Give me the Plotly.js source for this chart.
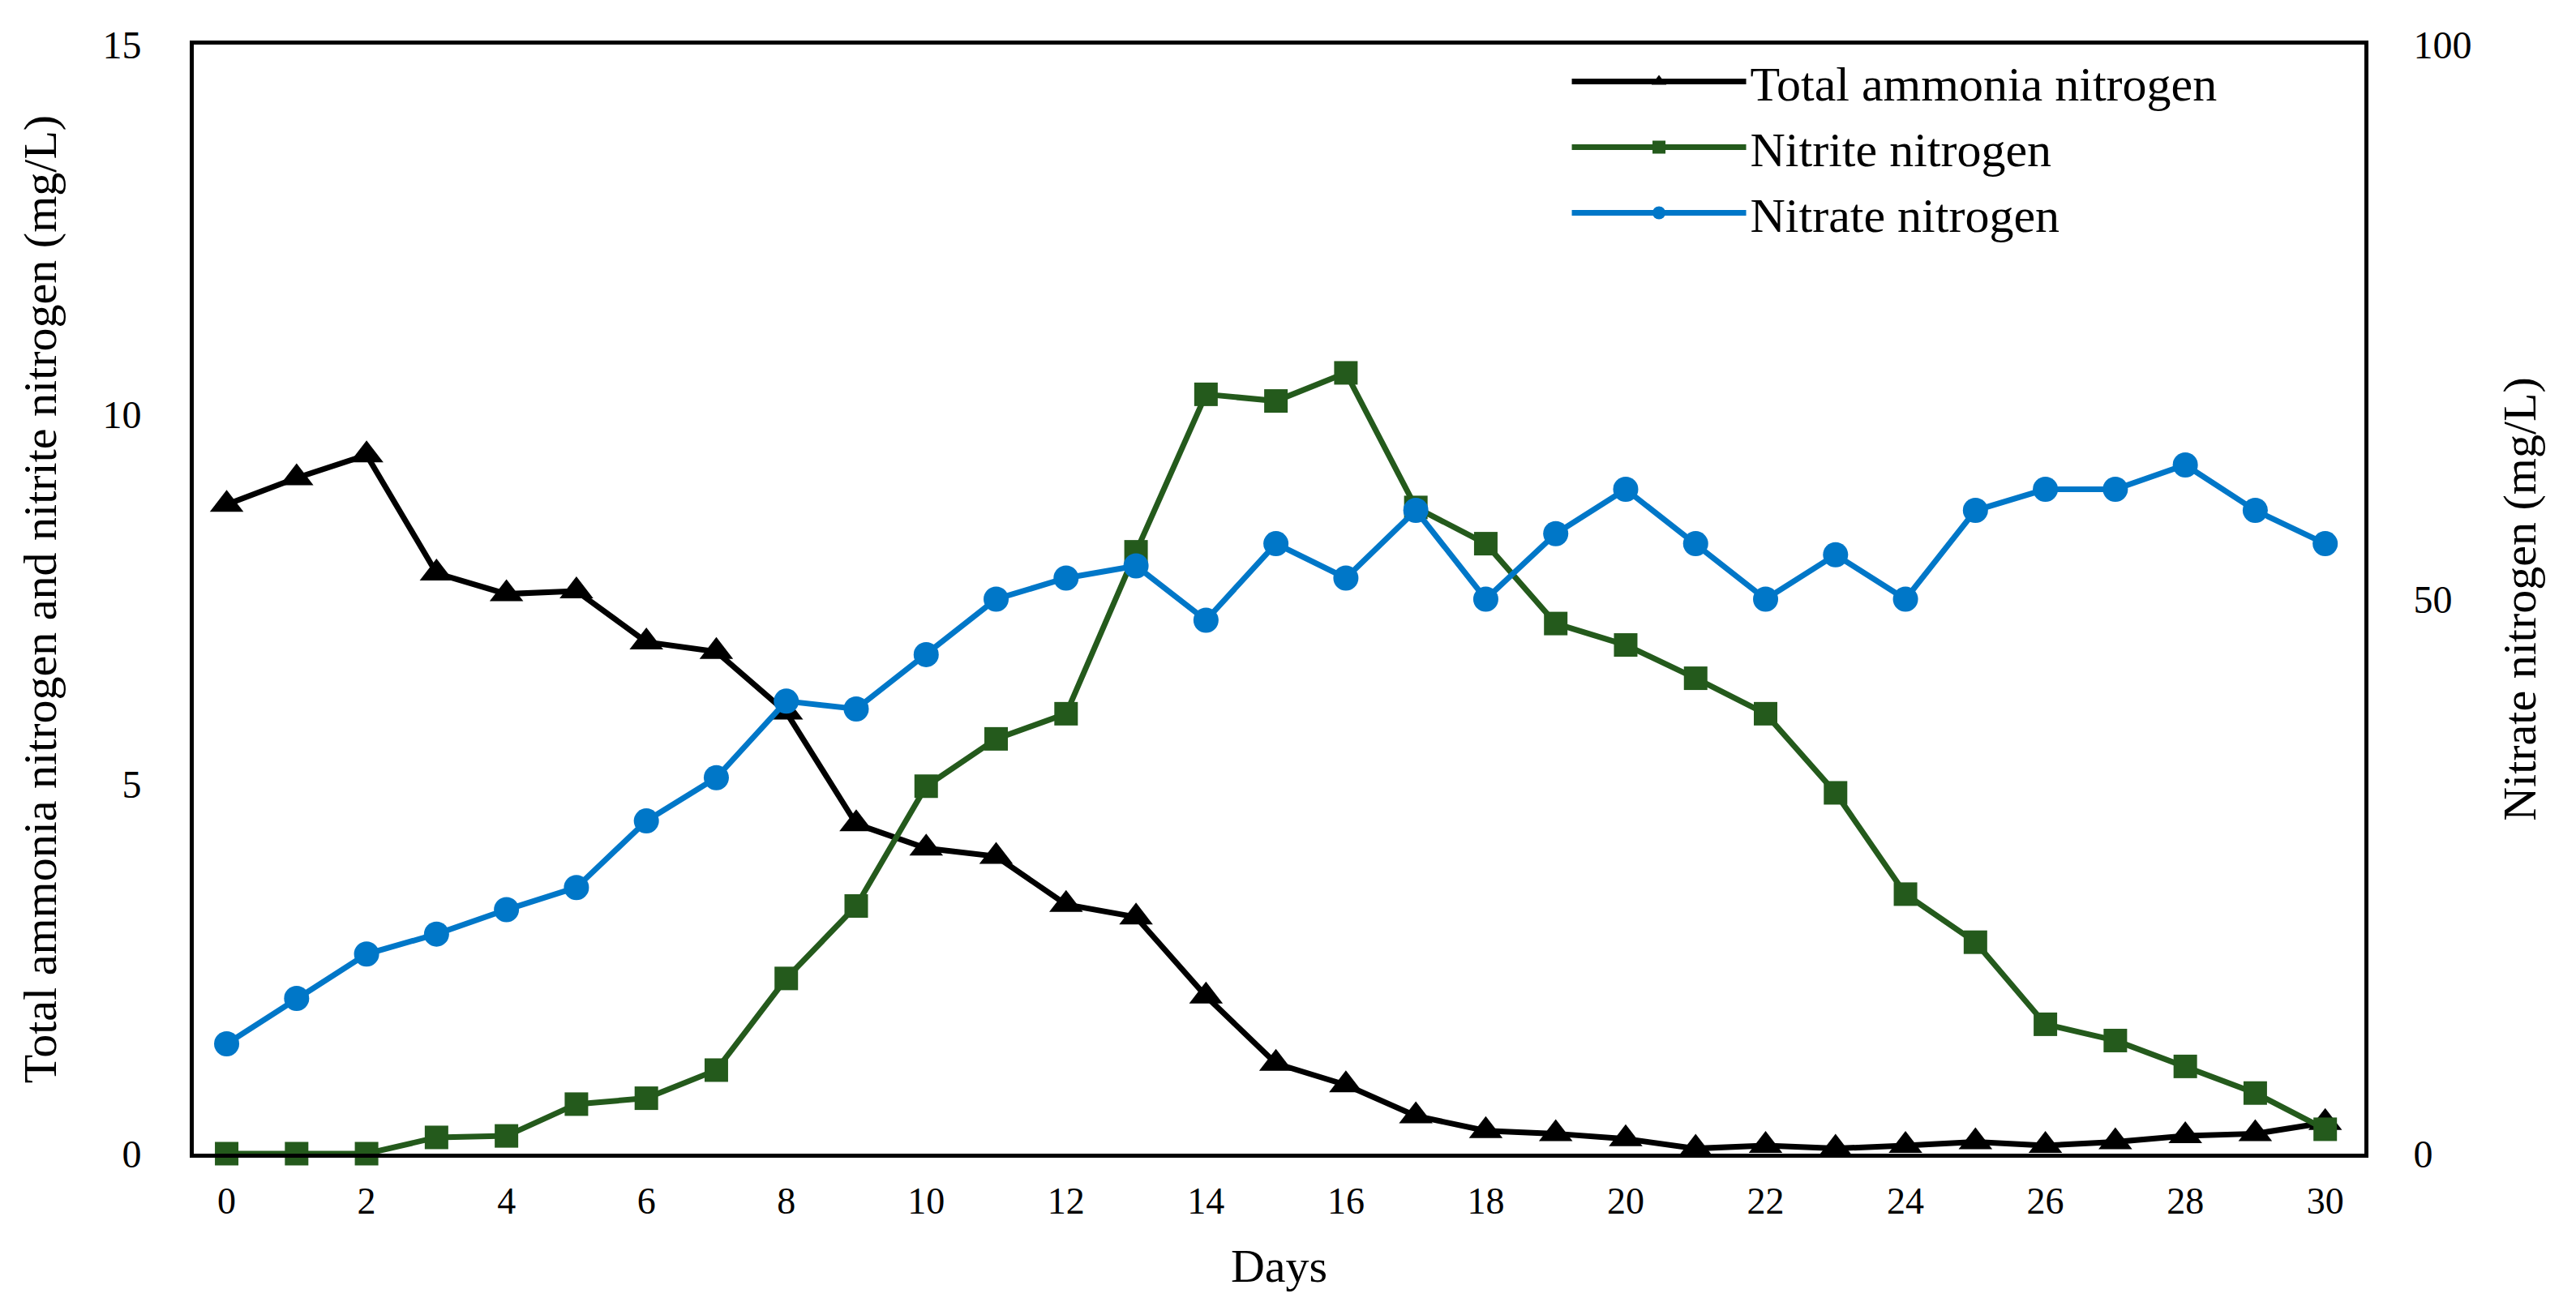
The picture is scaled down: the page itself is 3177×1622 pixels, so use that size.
<!DOCTYPE html>
<html>
<head>
<meta charset="utf-8">
<script src="https://cdn.plot.ly/plotly-3.0.1.min.js"></script>
<style>html,body{margin:0;padding:0;background:#fff}#chart{width:3177px;height:1622px}</style>
</head>
<body>
<div id="chart"></div>
<script>
const days = [0,1,2,3,4,5,6,7,8,9,10,11,12,13,14,15,16,17,18,19,20,21,22,23,24,25,26,27,28,29,30];
const ammonia = [8.78,9.14,9.45,7.85,7.57,7.61,6.92,6.79,5.97,4.46,4.13,4.02,3.37,3.20,2.13,1.22,0.93,0.51,0.31,0.27,0.20,0.07,0.11,0.07,0.11,0.16,0.11,0.16,0.24,0.27,0.42];
const nitrite = [0,0,0,0.22,0.24,0.67,0.75,1.13,2.37,3.35,4.97,5.61,5.95,8.14,10.27,10.18,10.56,8.74,8.25,7.17,6.88,6.43,5.95,4.88,3.51,2.86,1.75,1.53,1.18,0.82,0.33];
const nitrate = [9.9,14.0,18.0,19.8,22.0,24.0,30.0,33.9,40.8,40.1,45.0,50.0,51.9,53.0,48.1,55.0,51.9,58.0,50.0,55.9,59.9,55.0,50.0,54.0,50.0,58.0,59.9,59.9,62.1,58.0,55.0];
const xTickVals = [0,2,4,6,8,10,12,14,16,18,20,22,24,26,28,30];
const yTickVals = [0,5,10,15];
const y2TickVals = [0,50,100];
const seriesNames = ['Total ammonia nitrogen','Nitrite nitrogen','Nitrate nitrogen'];

const FONT = '"Liberation Serif", "Times New Roman", serif';
const traces = [
  {x: days, y: ammonia, name: seriesNames[0], type: 'scatter', mode: 'lines+markers',
   legendgroup: 'a', cliponaxis: false,
   line: {color: '#000000', width: 7}, marker: {symbol: 'triangle-up', size: 36, color: '#000000'}},
  {x: days, y: nitrite, name: seriesNames[1], type: 'scatter', mode: 'lines+markers',
   legendgroup: 'b', cliponaxis: false,
   line: {color: '#245A1C', width: 7}, marker: {symbol: 'square', size: 29, color: '#245A1C'}},
  {x: days, y: nitrate, name: seriesNames[2], type: 'scatter', mode: 'lines+markers', yaxis: 'y2',
   legendgroup: 'c', cliponaxis: false,
   line: {color: '#0077C8', width: 7}, marker: {symbol: 'circle', size: 31, color: '#0077C8'}}
];

const layout = {
  width: 3177, height: 1622,
  paper_bgcolor: '#ffffff', plot_bgcolor: '#ffffff',
  font: {family: FONT, size: 48, color: '#000000'},
  margin: {l: 239, r: 261, t: 55, b: 199, pad: 0},
  showlegend: true,
  legend: {x: 0.633, y: 1.0, xanchor: 'left', yanchor: 'top', bgcolor: 'rgba(0,0,0,0)',
           font: {family: FONT, size: 60, color: '#000'}, itemwidth: 215, tracegroupgap: 22,
           traceorder: 'normal'},
  xaxis: {range: [-0.47, 30.56], tickvals: xTickVals, showgrid: false, zeroline: false,
          showline: true, linecolor: '#000', linewidth: 5, mirror: true, ticks: '',
          ticklabelstandoff: 14,
          tickfont: {family: FONT, size: 46},
          title: {text: 'Days', font: {family: FONT, size: 58}, standoff: 36}},
  yaxis: {range: [0, 15], tickvals: yTickVals, showgrid: false, zeroline: false,
          showline: true, linecolor: '#000', linewidth: 5, mirror: true, ticks: '',
          ticklabelstandoff: 50,
          tickfont: {family: FONT, size: 48},
          title: {text: 'Total ammonia nitrogen and nitrite nitrogen (mg/L)', font: {family: FONT, size: 58}, standoff: 40}},
  yaxis2: {range: [0, 100], tickvals: y2TickVals, overlaying: 'y', side: 'right', showgrid: false, zeroline: false,
           showline: true, linecolor: '#000', linewidth: 5, ticks: '',
           ticklabelstandoff: 46,
           tickfont: {family: FONT, size: 48},
           title: {text: 'Nitrate nitrogen (mg/L)', font: {family: FONT, size: 58}, standoff: 40}}
};

Plotly.newPlot('chart', traces, layout, {displayModeBar: false, staticPlot: true});
</script>
</body>
</html>
